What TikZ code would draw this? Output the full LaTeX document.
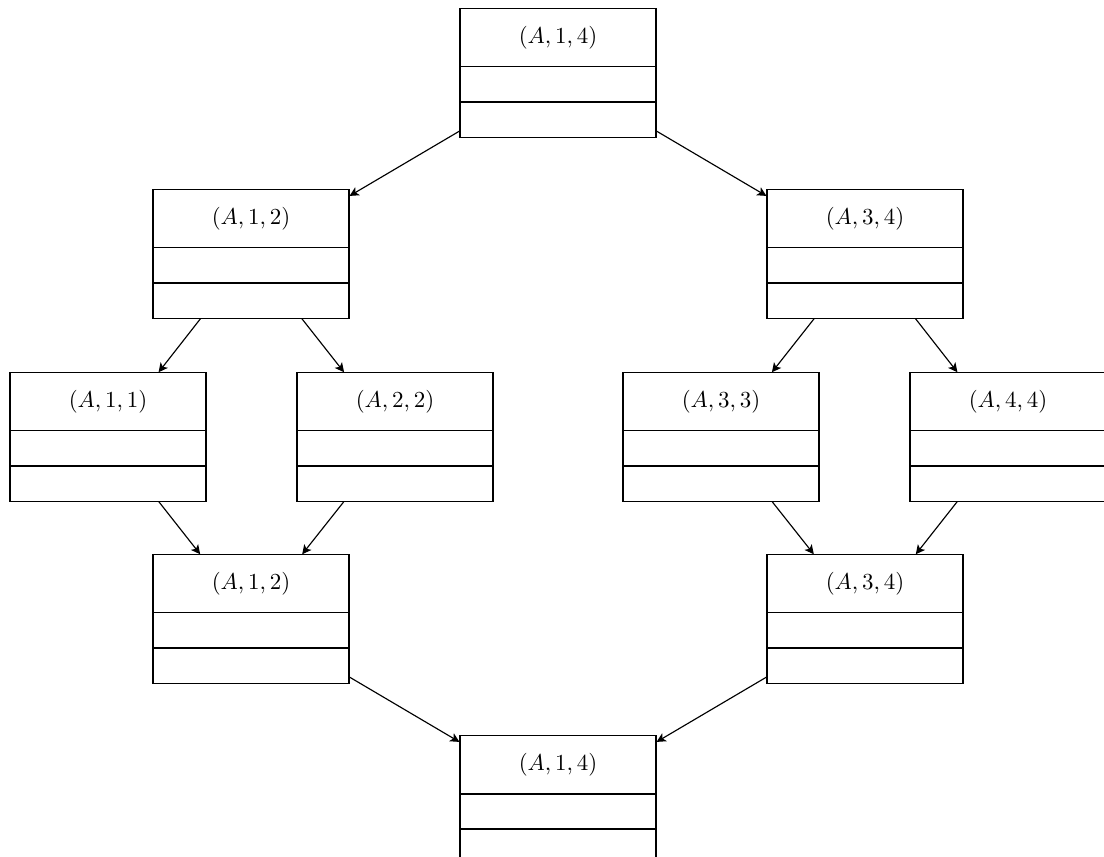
\documentclass[tikz,border=0pt]{standalone}
\usetikzlibrary{shapes.multipart,arrows.meta}
\begin{document}
\begin{tikzpicture}[x=0.015307cm, y=-0.015307cm, line width=0.5pt,
  cell/.style={draw, rectangle split, rectangle split parts=3,
    text width=3cm, align=center, inner xsep=0pt, inner ysep=7.4pt,
    rectangle split empty part height=0pt, rectangle split empty part depth=0pt,
    rectangle split empty part width=0pt},
  link/.style={-{Stealth[length=4pt,width=4pt,inset=1pt]}}]
\clip (0,0) rectangle (1104,856);
\useasboundingbox (0,0) rectangle (1104,856);
\node[cell] (t) at (558,73) {$(A,1,4)$\nodepart{two}\nodepart{three}};
\node[cell] (l) at (251,254) {$(A,1,2)$\nodepart{two}\nodepart{three}};
\node[cell] (r) at (865,254) {$(A,3,4)$\nodepart{two}\nodepart{three}};
\node[cell] (a) at (108,437) {$(A,1,1)$\nodepart{two}\nodepart{three}};
\node[cell] (b) at (395,437) {$(A,2,2)$\nodepart{two}\nodepart{three}};
\node[cell] (c) at (721,437) {$(A,3,3)$\nodepart{two}\nodepart{three}};
\node[cell] (d) at (1008,437) {$(A,4,4)$\nodepart{two}\nodepart{three}};
\node[cell] (lm) at (251,619) {$(A,1,2)$\nodepart{two}\nodepart{three}};
\node[cell] (rm) at (865,619) {$(A,3,4)$\nodepart{two}\nodepart{three}};
\node[cell] (bt) at (558,800) {$(A,1,4)$\nodepart{two}\nodepart{three}};
\draw[link] (t) -- (l);
\draw[link] (t) -- (r);
\draw[link] (l) -- (a);
\draw[link] (l) -- (b);
\draw[link] (r) -- (c);
\draw[link] (r) -- (d);
\draw[link] (a) -- (lm);
\draw[link] (b) -- (lm);
\draw[link] (c) -- (rm);
\draw[link] (d) -- (rm);
\draw[link] (lm) -- (bt);
\draw[link] (rm) -- (bt);
\end{tikzpicture}
\end{document}
